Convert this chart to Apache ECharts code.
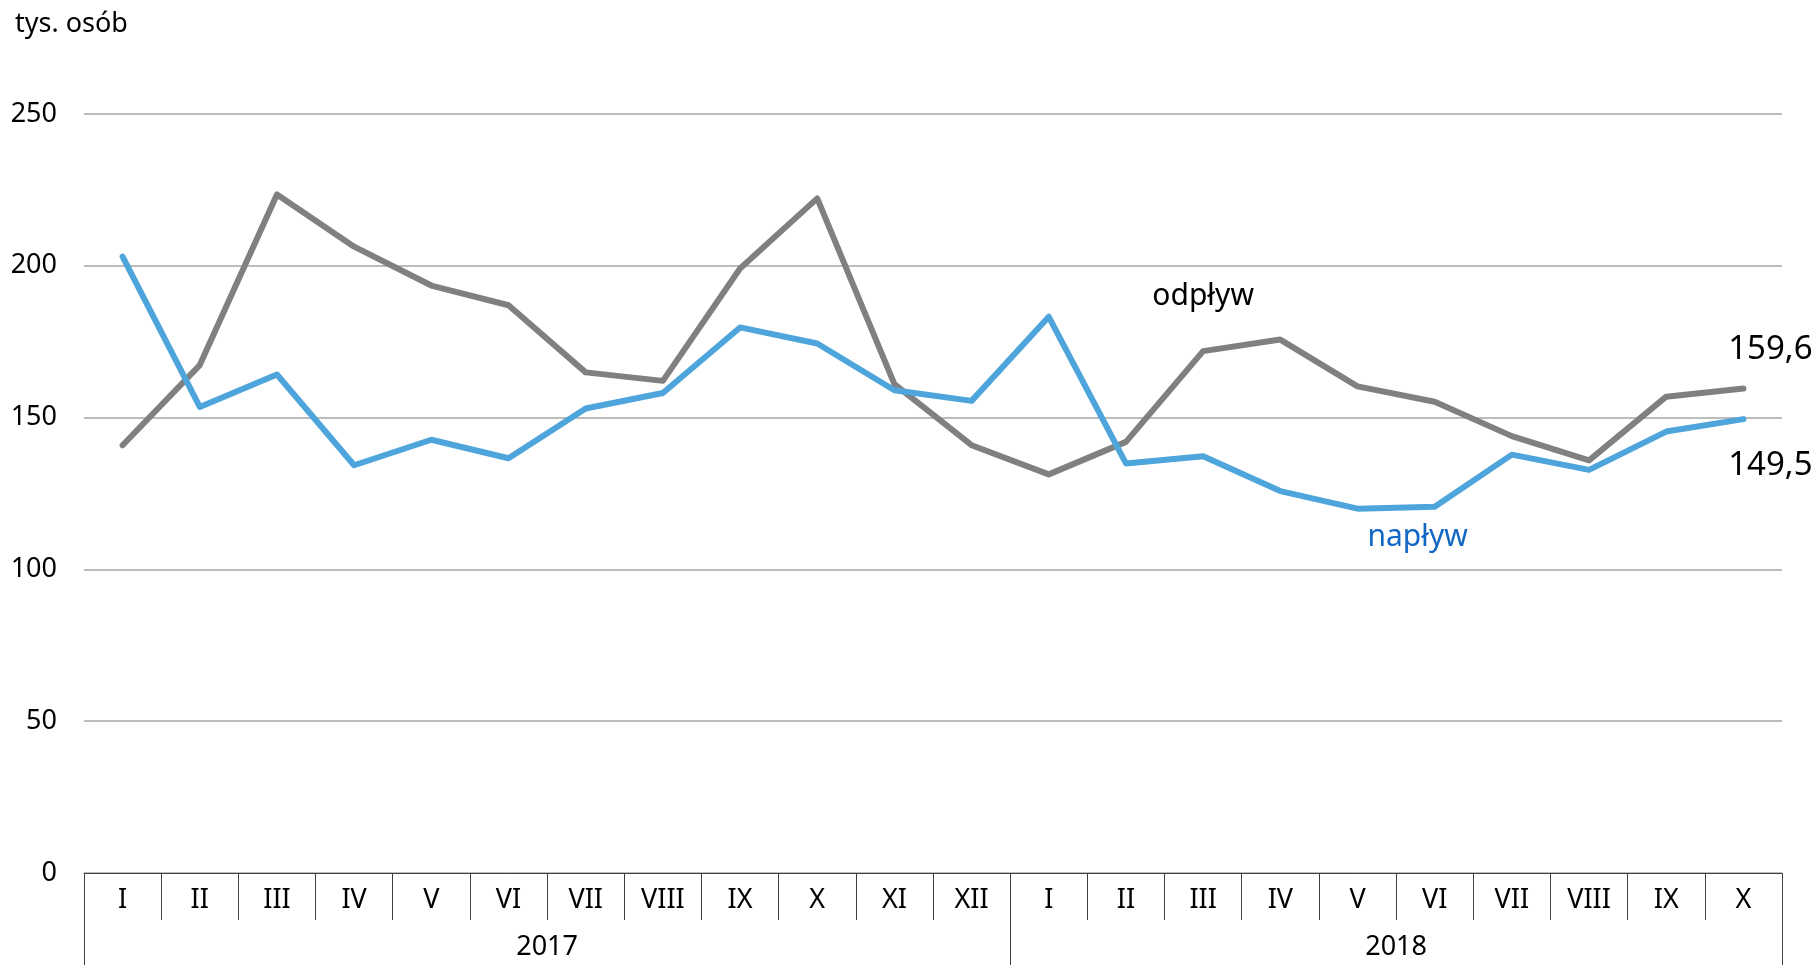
<!DOCTYPE html>
<html>
<head>
<meta charset="utf-8">
<script src="https://cdn.jsdelivr.net/npm/echarts@6/dist/echarts.min.js"></script>
<style>
  html, body { margin: 0; padding: 0; background: #fff; }
  #chart { width: 1817px; height: 965px; }
</style>
</head>
<body>
<div id="chart"></div>
<script>
const months = ['I', 'II', 'III', 'IV', 'V', 'VI', 'VII', 'VIII', 'IX', 'X', 'XI', 'XII',
  'I', 'II', 'III', 'IV', 'V', 'VI', 'VII', 'VIII', 'IX', 'X']
const years = ['2017', '2018']
const yearStart = [0, 12]
const yearEnd = 22

// odpływ (outflow), tys. osób
const odplyw = [140.9, 167.3, 223.5, 206.3, 193.5, 187.0, 164.9, 162.1, 199.1, 222.2, 161.0, 140.9,
  131.3, 142.0, 171.9, 175.7, 160.3, 155.2, 143.9, 135.9, 156.9, 159.6]
// napływ (inflow), tys. osób
const naplyw = [203.0, 153.5, 164.2, 134.3, 142.7, 136.6, 153.0, 158.1, 179.7, 174.4, 159.0, 155.5,
  183.2, 134.9, 137.3, 125.8, 120.0, 120.6, 137.8, 132.8, 145.4, 149.5]

const font = 'Noto Sans'
const gray = '#808080'
const blue = '#4ea5dc'

const withLabels = (arr, extra) => arr.map((v, i) => extra[i] ? { value: v, label: extra[i] } : v)

const last = months.length - 1
const fmtNum = (p) => p.value.toFixed(1).replace('.', ',')

const odplywData = withLabels(odplyw, {
  14: { show: true, position: 'top', distance: 40, offset: [0, 0], formatter: 'odpływ',
    color: '#000', fontSize: 30, fontFamily: font },
  [last]: { show: true, position: 'top', distance: 22, offset: [27, 0],
    formatter: fmtNum, color: '#000', fontSize: 33, fontFamily: font }
})
const naplywData = withLabels(naplyw, {
  17: { show: true, position: 'bottom', distance: 16, offset: [-17, 0], formatter: 'napływ',
    color: '#1266c4', fontSize: 30, fontFamily: font },
  [last]: { show: true, position: 'bottom', distance: 30, offset: [27, 0],
    formatter: fmtNum, color: '#000', fontSize: 33, fontFamily: font }
})

const chart = echarts.init(document.getElementById('chart'))
chart.setOption({
  animation: false,
  textStyle: { fontFamily: font },
  title: {
    text: 'tys. osób',
    left: 10,
    top: 6,
    textStyle: { fontSize: 27, fontWeight: 'normal', color: '#000', fontFamily: font }
  },
  grid: { left: 84, right: 35, top: 114, bottom: 92 },
  xAxis: [
    {
      type: 'category',
      data: months,
      boundaryGap: true,
      axisLine: { lineStyle: { color: '#404040', width: 1 } },
      axisTick: { show: true, interval: 0, length: 47, lineStyle: { color: '#404040' } },
      axisLabel: { interval: 0, margin: 14, fontSize: 27, color: '#000', fontFamily: font }
    },
    {
      type: 'value',
      min: 0,
      max: yearEnd,
      position: 'bottom',
      axisLine: { show: false },
      splitLine: { show: false },
      axisTick: { show: true, customValues: yearStart.concat([yearEnd]), length: 95,
        lineStyle: { color: '#404040' } },
      axisLabel: {
        customValues: yearStart.map((s, i) => (s + (yearStart[i + 1] || yearEnd)) / 2),
        formatter: (v) => years[yearStart.findIndex((s, i) => v > s && v < (yearStart[i + 1] || yearEnd))],
        margin: 61, fontSize: 27, color: '#000', fontFamily: font
      }
    }
  ],
  yAxis: {
    type: 'value',
    min: 0,
    max: 250,
    interval: 50,
    axisLine: { show: false },
    axisTick: { show: false },
    axisLabel: { margin: 27, fontSize: 27, color: '#000', fontFamily: font },
    splitLine: { lineStyle: { color: '#a6a6a6', width: 1.5 } }
  },
  series: [
    {
      name: 'odpływ',
      type: 'line',
      data: odplywData,
      symbol: 'circle',
      symbolSize: 0,
      showSymbol: true,
      lineStyle: { color: gray, width: 6, cap: 'round', join: 'round' },
      itemStyle: { color: gray },
      z: 2
    },
    {
      name: 'napływ',
      type: 'line',
      data: naplywData,
      symbol: 'circle',
      symbolSize: 0,
      showSymbol: true,
      lineStyle: { color: blue, width: 6, cap: 'round', join: 'round' },
      itemStyle: { color: blue },
      z: 3
    }
  ]
})
</script>
</body>
</html>
